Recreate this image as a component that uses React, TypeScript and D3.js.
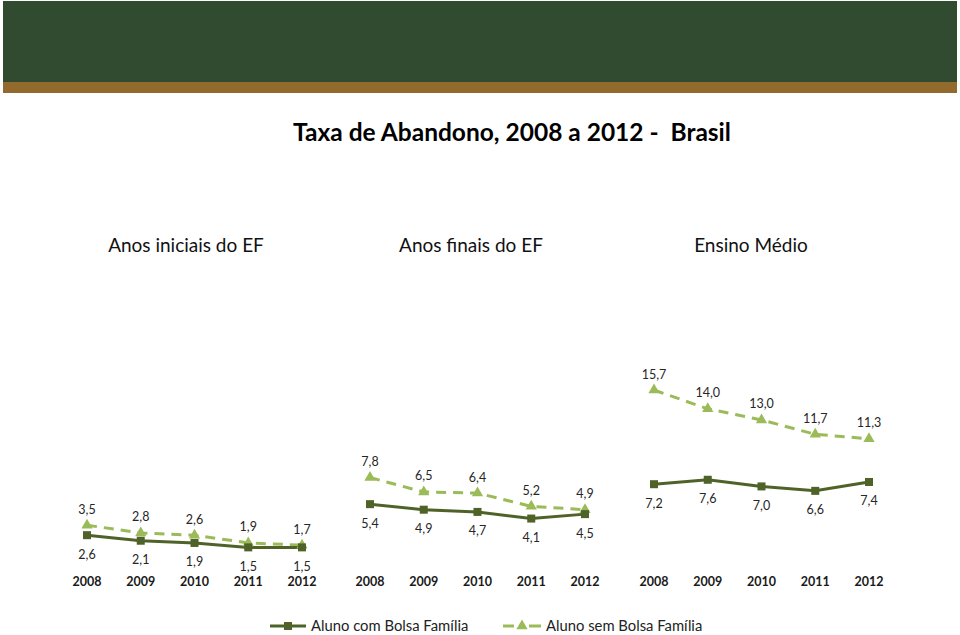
import * as d3 from "d3";

const WIDTH = 960;
const HEIGHT = 635;
const FONT = "Lato, 'Open Sans', sans-serif";

const DARK = "#4f6228";
const LIGHT = "#9bbb59";

const years = ["2008", "2009", "2010", "2011", "2012"];
const panels = ["Anos iniciais do EF", "Anos finais do EF", "Ensino Médio"];

// Aluno com Bolsa Família
const comBolsa = [
  [2.6, 2.1, 1.9, 1.5, 1.5],
  [5.4, 4.9, 4.7, 4.1, 4.5],
  [7.2, 7.6, 7.0, 6.6, 7.4],
];
// Aluno sem Bolsa Família
const semBolsa = [
  [3.5, 2.8, 2.6, 1.9, 1.7],
  [7.8, 6.5, 6.4, 5.2, 4.9],
  [15.7, 14.0, 13.0, 11.7, 11.3],
];

const PANEL_LEFT = [87, 370, 654];
const PANEL_SPAN = 215;
const HEADER_X = [186, 471, 751];

const fmt = (v: number) => v.toFixed(1).replace(".", ",");

const tri = d3.symbol().type(d3.symbolTriangle).size(55);

const App = () => {
  // same vertical scale for the three small charts
  const yScale = d3.scaleLinear().domain([0, 15.7]).range([564, 390]);

  const line = (xScale: d3.ScalePoint<string>, vals: number[]) =>
    d3
      .line<number>()
      .x((_, i) => xScale(years[i]) as number)
      .y((d) => yScale(d))(vals) as string;

  const charts = panels.map((name, p) => {
    const xScale = d3
      .scalePoint<string>()
      .domain(years)
      .range([PANEL_LEFT[p], PANEL_LEFT[p] + PANEL_SPAN]);
    return (
      <g key={p}>
        <text x={HEADER_X[p]} y={252} textAnchor="middle" fontSize={19} fill="#111">
          {name}
        </text>
        <path
          d={line(xScale, semBolsa[p])}
          fill="none"
          stroke={LIGHT}
          strokeWidth={3}
          strokeDasharray="10,7"
        />
        <path d={line(xScale, comBolsa[p])} fill="none" stroke={DARK} strokeWidth={3} />
        {semBolsa[p].map((v, i) => (
          <g key={"s" + i}>
            <path
              d={tri() as string}
              transform={`translate(${xScale(years[i])},${yScale(v)})`}
              fill={LIGHT}
            />
            <text
              x={xScale(years[i])}
              y={yScale(v) - 16}
              textAnchor="middle"
              dominantBaseline="central"
              fontSize={12.5}
              fill="#262626"
            >
              {fmt(v)}
            </text>
          </g>
        ))}
        {comBolsa[p].map((v, i) => (
          <g key={"c" + i}>
            <rect
              x={(xScale(years[i]) as number) - 4}
              y={yScale(v) - 4}
              width={8}
              height={8}
              fill={DARK}
            />
            <text
              x={xScale(years[i])}
              y={yScale(v) + 19}
              textAnchor="middle"
              dominantBaseline="central"
              fontSize={12.5}
              fill="#262626"
            >
              {fmt(v)}
            </text>
          </g>
        ))}
        {years.map((yr) => (
          <text
            key={yr}
            x={xScale(yr)}
            y={586}
            textAnchor="middle"
            fontSize={12.5}
            fontWeight="bold"
            fill="#1a1a1a"
          >
            {yr}
          </text>
        ))}
      </g>
    );
  });

  return (
    <svg
      width={WIDTH}
      height={HEIGHT}
      style={{ position: "absolute", left: 0, top: 0, background: "#fff" }}
      fontFamily={FONT}
    >
      <rect x={3} y={1} width={954} height={81} fill="#304b30" />
      <rect x={3} y={82} width={954} height={11} fill="#926a2d" />
      <text
        x={512}
        y={141}
        textAnchor="middle"
        fontSize={24.5}
        fontWeight="bold"
        fill="#000"
        style={{ whiteSpace: "pre" }}
      >
        {"Taxa de Abandono, 2008 a 2012 -  Brasil"}
      </text>
      {charts}
      <g>
        <line x1={270} x2={306} y1={626} y2={626} stroke={DARK} strokeWidth={3} />
        <rect x={284} y={622} width={8} height={8} fill={DARK} />
        <text x={311} y={631} fontSize={14.8} fill="#222">
          Aluno com Bolsa Família
        </text>
        <line x1={503} x2={514} y1={626} y2={626} stroke={LIGHT} strokeWidth={3} />
        <line x1={529} x2={541} y1={626} y2={626} stroke={LIGHT} strokeWidth={3} />
        <path d={tri() as string} transform="translate(522,626)" fill={LIGHT} />
        <text x={546} y={631} fontSize={14.8} fill="#222">
          Aluno sem Bolsa Família
        </text>
      </g>
    </svg>
  );
};

export default App;
